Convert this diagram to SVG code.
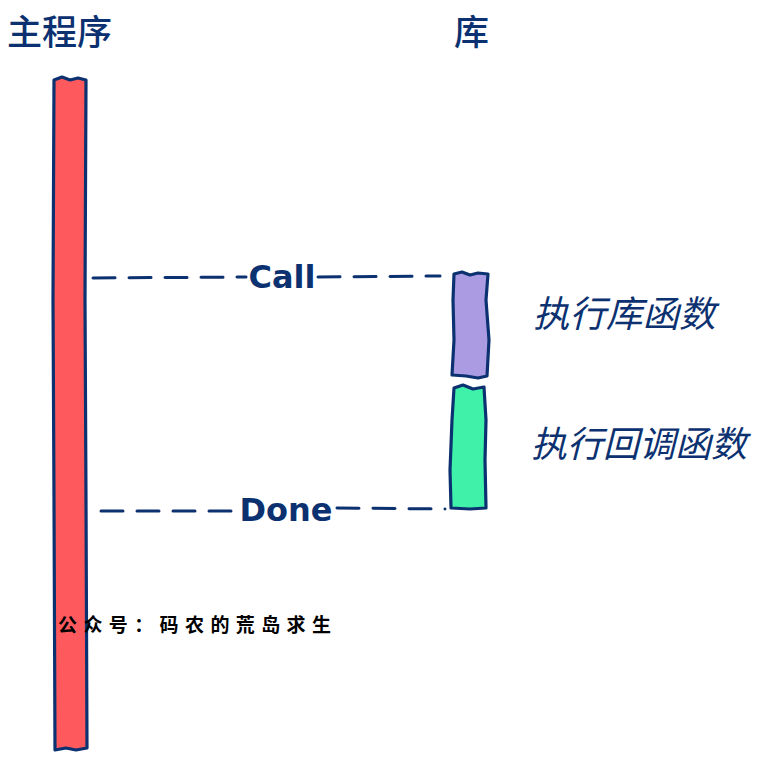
<svg xmlns="http://www.w3.org/2000/svg" width="759" height="764" viewBox="0 0 759 764">
<style>
.t{font-family:"Noto Sans CJK SC","Liberation Sans",sans-serif;fill:#0c3170}
.lbl{font-family:"DejaVu Sans","Liberation Sans",sans-serif;font-weight:bold;fill:#0c3170;font-size:32px;text-anchor:middle}
.box{stroke:#0c3170;stroke-width:3.2;stroke-linejoin:round}
.dash{fill:none;stroke:#0c3170;stroke-width:3;stroke-dasharray:22 14;stroke-linecap:round}
</style>
<rect width="759" height="764" fill="#ffffff"/>
<g id="title-main"><text class="t" x="7" y="45" font-size="35" font-weight="500">主程序</text></g>
<g id="title-lib"><text class="t" x="454" y="45" font-size="35" font-weight="500">库</text></g>
<g id="main-bar"><path class="box" fill="#fe5a5e" d="M54,80 L62,77 L70,80 L78,78 L86,80 L85,300 L86,500 L87,748 L76,750 L66,748 L55,750 L54,500 L53,300 Z"/></g>
<g id="lib-func"><path class="box" fill="#ab9be2" d="M454,274 L462,272 L470,275 L478,273 L488,274 L486,300 L489,340 L487,376 L478,378 L466,376 L452,375 L454,340 L453,300 Z"/></g>
<g id="callback-func"><path class="box" fill="#40f1a9" d="M454,388 L463,385 L473,389 L484,387 L486,420 L485,460 L486,508 L470,509 L451,508 L450,470 L452,420 Z"/></g>
<g id="connectors">
<path class="dash" d="M93,278 L246,277"/>
<path class="dash" d="M318,277 L440,276"/>
<path class="dash" d="M101,511 L240,511"/>
<path class="dash" d="M337,508 L445,509"/>
</g>
<g id="labels">
<text class="lbl" x="282" y="288">Call</text>
<text class="lbl" x="286" y="521">Done</text>
<text class="t" x="533" y="327" font-size="36.5" font-style="italic">执行库函数</text>
<text class="t" x="531" y="457" font-size="36" font-style="italic">执行回调函数</text>
</g>
<g id="watermark"><text x="58" y="632" font-family="Noto Sans CJK SC, sans-serif" font-weight="bold" font-size="19" fill="#000" letter-spacing="6.4">公众号：码农的荒岛求生</text></g>
</svg>
